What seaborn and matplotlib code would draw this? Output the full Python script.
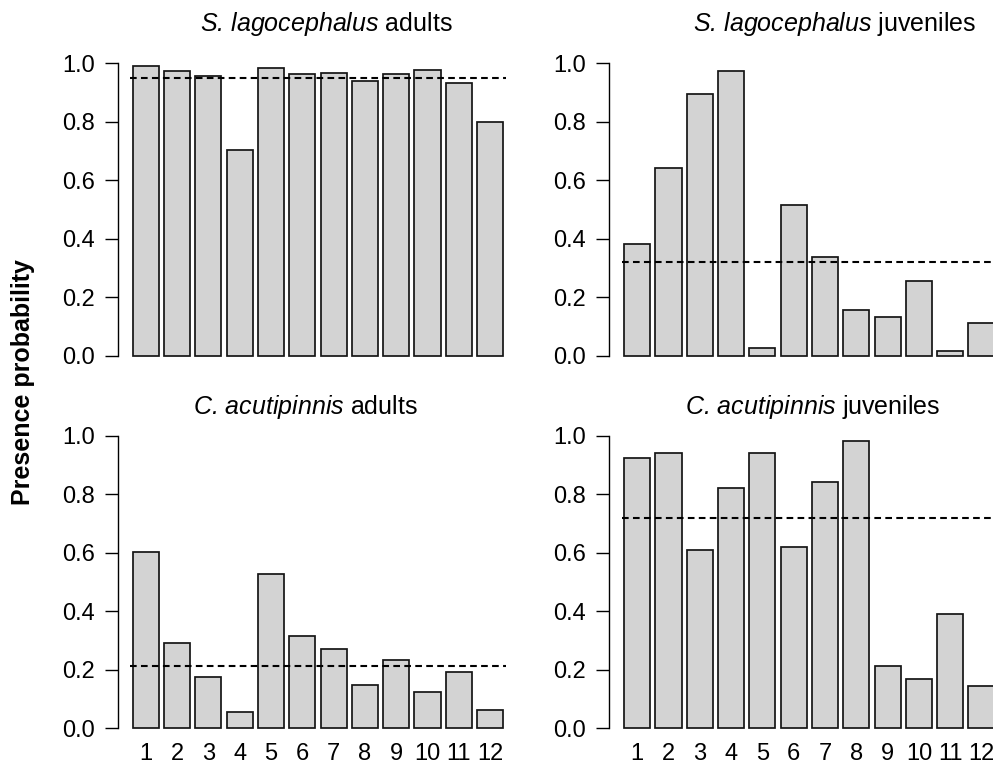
import numpy as np
import pandas as pd
import seaborn as sns
import matplotlib.pyplot as plt

# Monthly presence probabilities (months 1-12)
months = [str(m) for m in range(1, 13)]

sl_adults = [0.991, 0.974, 0.958, 0.704, 0.985, 0.964, 0.968, 0.940, 0.964, 0.978, 0.934, 0.800]
sl_juveniles = [0.383, 0.641, 0.895, 0.973, 0.027, 0.517, 0.337, 0.156, 0.133, 0.257, 0.016, 0.112]
ca_adults = [0.601, 0.293, 0.175, 0.056, 0.528, 0.315, 0.270, 0.147, 0.233, 0.124, 0.192, 0.062]
ca_juveniles = [0.922, 0.939, 0.608, 0.820, 0.939, 0.619, 0.843, 0.983, 0.214, 0.169, 0.389, 0.145]

# Overall (annual) probability shown as the dashed reference line
sl_adults_mean = 0.951
sl_juveniles_mean = 0.322
ca_adults_mean = 0.214
ca_juveniles_mean = 0.717

sns.set_theme(style="white")
plt.rcParams["font.family"] = ["Liberation Sans", "DejaVu Sans"]
plt.rcParams["mathtext.fontset"] = "custom"
plt.rcParams["mathtext.rm"] = "Liberation Sans"
plt.rcParams["mathtext.it"] = "Liberation Sans:italic"
plt.rcParams["mathtext.bf"] = "Liberation Sans:bold"
plt.rcParams["lines.scale_dashes"] = False
for key in ["text.color", "axes.labelcolor", "xtick.color", "ytick.color", "axes.edgecolor"]:
    plt.rcParams[key] = "black"

W, H = 993, 765
fig = plt.figure(figsize=(W / 100, H / 100), dpi=100)

# Species name in italics, life stage upright
panels = [
    dict(vals=sl_adults, mean=sl_adults_mean,
         title=r"S. lagocephalus $\mathrm{adults}$",
         rect=[0.1187, 0.5194, 0.4029, 0.4132], tx=326.5, ty=30.7, xlabels=False),
    dict(vals=sl_juveniles, mean=sl_juveniles_mean,
         title=r"S. lagocephalus $\mathrm{juveniles}$",
         rect=[0.6136, 0.5194, 0.4029, 0.4132], tx=835, ty=30.7, xlabels=False),
    dict(vals=ca_adults, mean=ca_adults_mean,
         title=r"C. acutipinnis $\mathrm{adults}$",
         rect=[0.1187, 0.0327, 0.4029, 0.4132], tx=305, ty=414.5, xlabels=True),
    dict(vals=ca_juveniles, mean=ca_juveniles_mean,
         title=r"C. acutipinnis $\mathrm{juveniles}$",
         rect=[0.6136, 0.0327, 0.4029, 0.4132], tx=813, ty=414.5, xlabels=True),
]

yt = [0.0, 0.2, 0.4, 0.6, 0.8, 1.0]

for p in panels:
    ax = fig.add_axes(p["rect"])
    df = pd.DataFrame({"month": months, "prob": p["vals"]})
    sns.barplot(data=df, x="month", y="prob", order=months, color="#d3d3d3",
                saturation=1, edgecolor="#151515", linewidth=1.25,
                width=1 / 1.2, errorbar=None, ax=ax)
    ax.hlines(p["mean"], -0.5, 11.5, colors="black", linewidth=1.5,
              linestyles=(0, (4.8, 3.1)), zorder=5)
    ax.set_xlim(-0.89, 11.89)
    ax.set_ylim(-0.04, 1.04)
    ax.set_xlabel("")
    ax.set_ylabel("")
    for side in ["top", "right", "bottom"]:
        ax.spines[side].set_visible(False)
    ax.spines["left"].set_bounds(0, 1)
    ax.spines["left"].set_linewidth(1.0)
    ax.set_yticks(yt)
    ax.set_yticklabels([f"{v:.1f}" for v in yt])
    ax.tick_params(axis="y", left=True, length=9.4, width=1.0, pad=7.2, labelsize=17)
    ax.tick_params(axis="x", bottom=False, length=0, pad=2, labelsize=17,
                   labelbottom=p["xlabels"])
    ax.set_facecolor("none")
    fig.text(p["tx"] / W, 1 - p["ty"] / H, p["title"], ha="center", va="baseline",
             fontsize=18, fontstyle="italic")

fig.text(23 / W, 0.5, "Presence probability", rotation=90, ha="center", va="center",
         fontsize=18, fontweight="bold")

fig.savefig("out.png", dpi=100, facecolor="white")
